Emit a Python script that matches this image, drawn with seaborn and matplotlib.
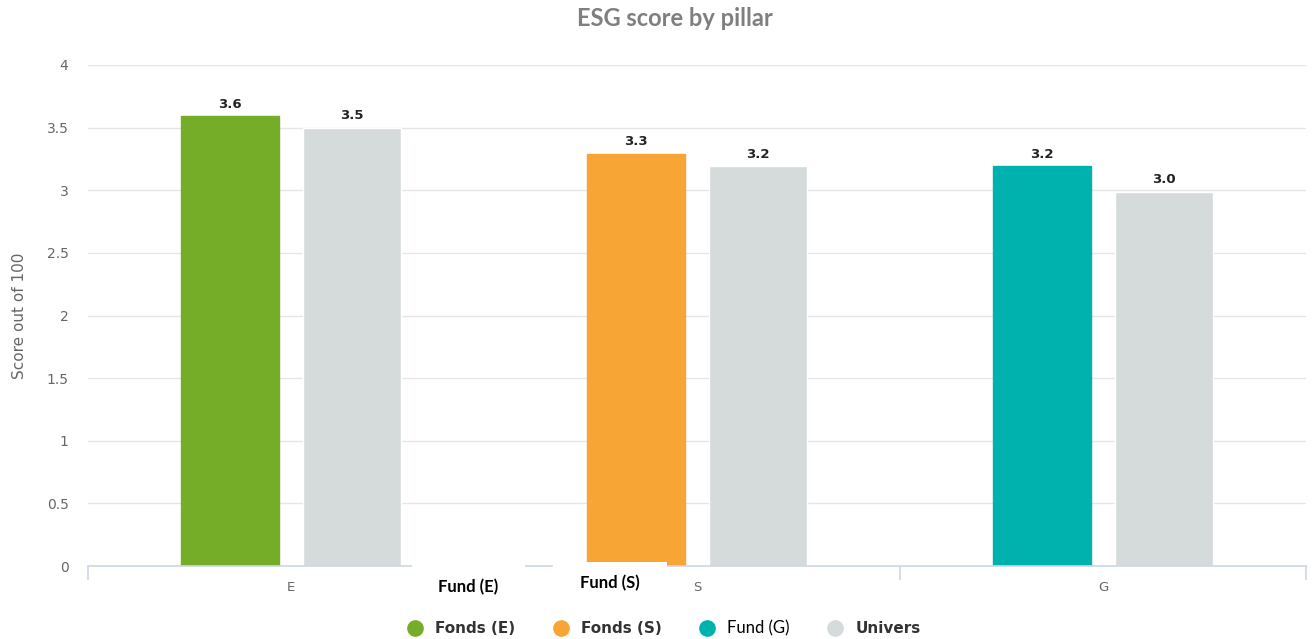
import pandas as pd
import numpy as np
import matplotlib.pyplot as plt
import seaborn as sns
from matplotlib.lines import Line2D
from matplotlib.patches import Rectangle
from matplotlib.ticker import FuncFormatter, FixedLocator

# data
pillars = ['E', 'S', 'G']
fund_scores = [3.59, 3.29, 3.19]
univers_scores = [3.5, 3.19, 2.99]
fund_colors = ['#76AD28', '#F7A535', '#00B2AD']
univers_color = '#D5DBDB'
legend_labels = ['Fonds (E)', 'Fonds (S)', 'Fund (G)', 'Univers']

df = pd.DataFrame({
    'pillar': pillars * 2,
    'score': fund_scores + univers_scores,
    'series': ['Fund'] * 3 + ['Univers'] * 3,
})

sns.set_theme(style='white')
plt.rcParams['font.family'] = ['DejaVu Sans']

fig = plt.figure(figsize=(13.16, 6.39), dpi=100)
ax = fig.add_axes([88 / 1316, 1 - 566 / 639, (1306 - 88) / 1316, (566 - 65) / 639])

sns.barplot(data=df, x='pillar', y='score', hue='series', order=pillars,
            palette={'Fund': fund_colors[0], 'Univers': univers_color},
            width=0.6, gap=0.2, legend=False, ax=ax, saturation=1)

# fund bars take the colour of their pillar
for bar, c in zip(ax.containers[0], fund_colors):
    bar.set_color(c)

for cont in ax.containers:
    ax.bar_label(cont, fmt='%.1f', padding=4, fontsize=9.5, fontweight='bold', color='#222222')

ax.set_xlim(-0.5, 2.5)
ax.set_ylim(0, 4)
ax.set_yticks(np.arange(0, 4.01, 0.5))
ax.yaxis.set_major_formatter(FuncFormatter(lambda v, p: f'{v:g}'))
ax.grid(axis='y', color='#E6E6E6', linewidth=1)
ax.set_axisbelow(True)
for s in ['top', 'right', 'left']:
    ax.spines[s].set_visible(False)
ax.spines['bottom'].set_color('#CCD6EB')
ax.spines['bottom'].set_linewidth(1.2)

ax.tick_params(axis='y', length=0, pad=14, labelsize=10, labelcolor='#666666')
ax.tick_params(axis='x', which='major', length=0, pad=11, labelsize=9.5, labelcolor='#666666')
ax.xaxis.set_minor_locator(FixedLocator([-0.5, 0.5, 1.5, 2.5]))
ax.tick_params(axis='x', which='minor', bottom=True, length=10, width=1.2, color='#CCD6EB')
ax.set_xlabel('')
ax.set_ylabel('Score out of 100', fontsize=11, color='#666666', labelpad=14)

fig.text(675 / 1316, 1 - 18 / 639, 'ESG score by pillar', ha='center', va='center',
         fontsize=17, fontweight='bold', color='#7F7F7F', family='Lato')

# legend with round markers
handles = [Line2D([0], [0], marker='o', linestyle='', markersize=11,
                  markerfacecolor=c, markeredgecolor=c)
           for c in fund_colors + [univers_color]]
leg = fig.legend(handles, legend_labels, loc='center', bbox_to_anchor=(660 / 1316, 1 - 628 / 639),
                 ncol=4, frameon=False, handletextpad=0.3, columnspacing=2.0,
                 prop={'size': 11, 'weight': 'bold'})
for i, t in enumerate(leg.get_texts()):
    if i == 2:
        t.set_fontweight('normal')
        t.set_color('black')
        t.set_family('Lato')
        t.set_fontsize(12)
    else:
        t.set_color('#333333')

# white label boxes pasted over the axis
for x0, x1, txt, ty in [(412, 525, 'Fund (E)', 587), (553, 667, 'Fund (S)', 583)]:
    fig.patches.append(Rectangle((x0 / 1316, 1 - 600 / 639), (x1 - x0) / 1316, 38 / 639,
                                 transform=fig.transFigure, facecolor='white',
                                 edgecolor='none', zorder=5))
    fig.text((x0 + x1) / 2 / 1316, 1 - ty / 639, txt, ha='center', va='center',
             fontsize=12, fontweight='bold', color='black', family='Lato', zorder=6)

fig.savefig('out.png', dpi=100)
